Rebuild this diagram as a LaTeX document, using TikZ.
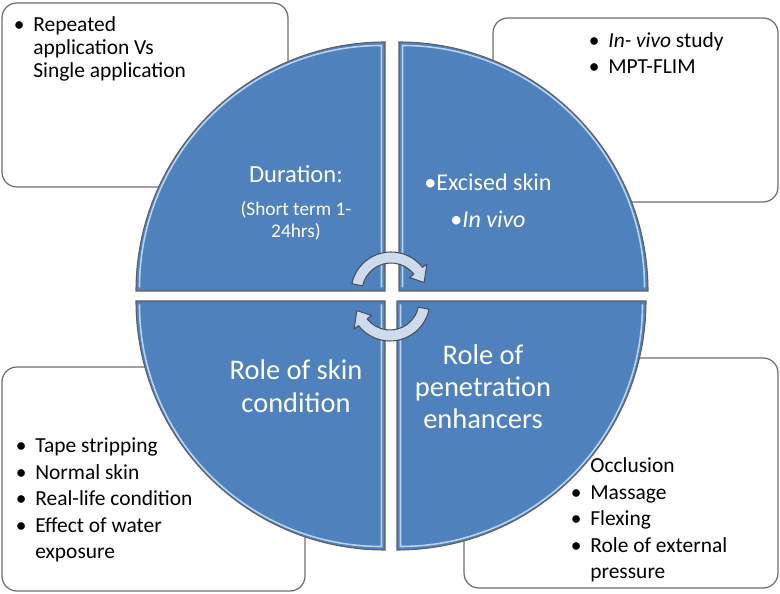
\documentclass[tikz,border=0pt]{standalone}
\usepackage{fontspec}
\setmainfont{Carlito}
\definecolor{quadblue}{RGB}{79,129,189}
\definecolor{quadedge}{RGB}{95,95,95}
\definecolor{quadshine}{RGB}{185,211,242}
\definecolor{boxedge}{RGB}{110,110,110}
\definecolor{arrowfill}{RGB}{206,219,236}
\definecolor{arrowedge}{RGB}{70,78,92}
\newcommand\itembul{\llap{\textbullet\hspace{5pt}}}
\tikzset{
	infobox/.style={draw=boxedge,fill=white,line width=0.7pt,rounded corners=8.5pt},
	quadrant/.style={fill=quadblue,draw=quadedge,line width=0.6pt},
	shine/.style={draw=quadshine,line width=0.9pt},
	turnarrow/.style={fill=arrowfill,draw=arrowedge,line width=0.6pt,line join=round},
	boxtext/.style={anchor=base west,inner sep=0pt,font=\fontsize{12.2}{15}\selectfont},
	quadtext/.style={anchor=base,inner sep=0pt,text=white},
}
\begin{document}
\begin{tikzpicture}[x=0.02cm,y=0.02cm]
	\useasboundingbox (-392,-298) rectangle (388,296);
	%%%%%%%% boxes behind the circle
	\draw[infobox] (-390,293) rectangle (-104,109);
	\draw[infobox] (101,278) rectangle (386,94);
	\draw[infobox] (-390,-71) rectangle (-87,-295);
	\draw[infobox] (72,-62) rectangle (386,-292);
	%%%%%%%% four quarters
	\def\tlquad{(-7,5) -- ++(0,249) arc (90:180:249) -- cycle}
	\def\trquad{(7,5) -- ++(0,249) arc (90:0:249) -- cycle}
	\def\blquad{(-7,-5) -- ++(0,-249) arc (270:180:249) -- cycle}
	\def\brquad{(5,-5) -- ++(0,-249) arc (270:360:249) -- cycle}
	\draw[quadrant] \tlquad;
	\draw[quadrant] \trquad;
	\draw[quadrant] \blquad;
	\draw[quadrant] \brquad;
	\draw[shine] (-10.5,8.5) -- ++(0,242) arc (90:180:242);
	\draw[shine] (10.5,8.5) -- ++(0,242) arc (90:0:242);
	\draw[shine] (-10.5,-8.5) -- ++(0,-242) arc (270:180:242);
	\draw[shine] (8.5,-8.5) -- ++(0,-242) arc (270:360:242);
	%%%%%%%% turning arrows
	\def\turn{(168:40) arc (168:38:40) -- (38:45.5) -- (16:34.5) -- (38:23.5) -- (38:29) arc (38:168:29) -- cycle}
	\begin{scope}[shift={(-1,4)}]
		\draw[turnarrow] \turn;
	\end{scope}
	\begin{scope}[shift={(-2,-5)},rotate=180]
		\draw[turnarrow] \turn;
	\end{scope}
	%%%%%%%% texts in the quarters
	\node[quadtext,font=\fontsize{14}{17}\selectfont] (duration) at (-96,113) {Duration:};
	\node[quadtext,font=\fontsize{11}{12}\selectfont] (shortterm) at (-96,80)
		{\begin{tabular}[t]{@{}c@{}}(Short term 1-\\24hrs)\end{tabular}};
	\node[quadtext,font=\fontsize{13.7}{21}\selectfont] (models) at (96,105)
		{\begin{tabular}[t]{@{}c@{}}\textbullet Excised skin\\\textbullet\textit{In vivo}\end{tabular}};
	\node[quadtext,font=\fontsize{16.2}{18.5}\selectfont] (skincond) at (-96,-84)
		{\begin{tabular}[t]{@{}c@{}}Role of skin\\condition\end{tabular}};
	\node[quadtext,font=\fontsize{16.2}{18}\selectfont] (enhancers) at (91,-69)
		{\begin{tabular}[t]{@{}c@{}}Role of\\penetration\\enhancers\end{tabular}};
	%%%%%%%% texts in the boxes
	\node[boxtext,font=\fontsize{12.2}{13}\selectfont] (repeated) at (-359,264)
		{\begin{tabular}[t]{@{}l@{}}\itembul Repeated\\application Vs\\Single application\end{tabular}};
	\node[boxtext,font=\fontsize{12.2}{14.7}\selectfont] (invivo) at (216,248)
		{\begin{tabular}[t]{@{}l@{}}\itembul\textit{In- vivo} study\\\itembul MPT-FLIM\end{tabular}};
	\node[boxtext] (tape) at (-357,-157)
		{\begin{tabular}[t]{@{}l@{}}\itembul Tape stripping\\\itembul Normal skin\\\itembul Real-life condition\\\itembul Effect of water\\exposure\end{tabular}};
	\node[boxtext] (occlusion) at (198,-177)
		{\begin{tabular}[t]{@{}l@{}}Occlusion\\\itembul Massage\\\itembul Flexing\\\itembul Role of external\\pressure\end{tabular}};
\end{tikzpicture}
\end{document}
